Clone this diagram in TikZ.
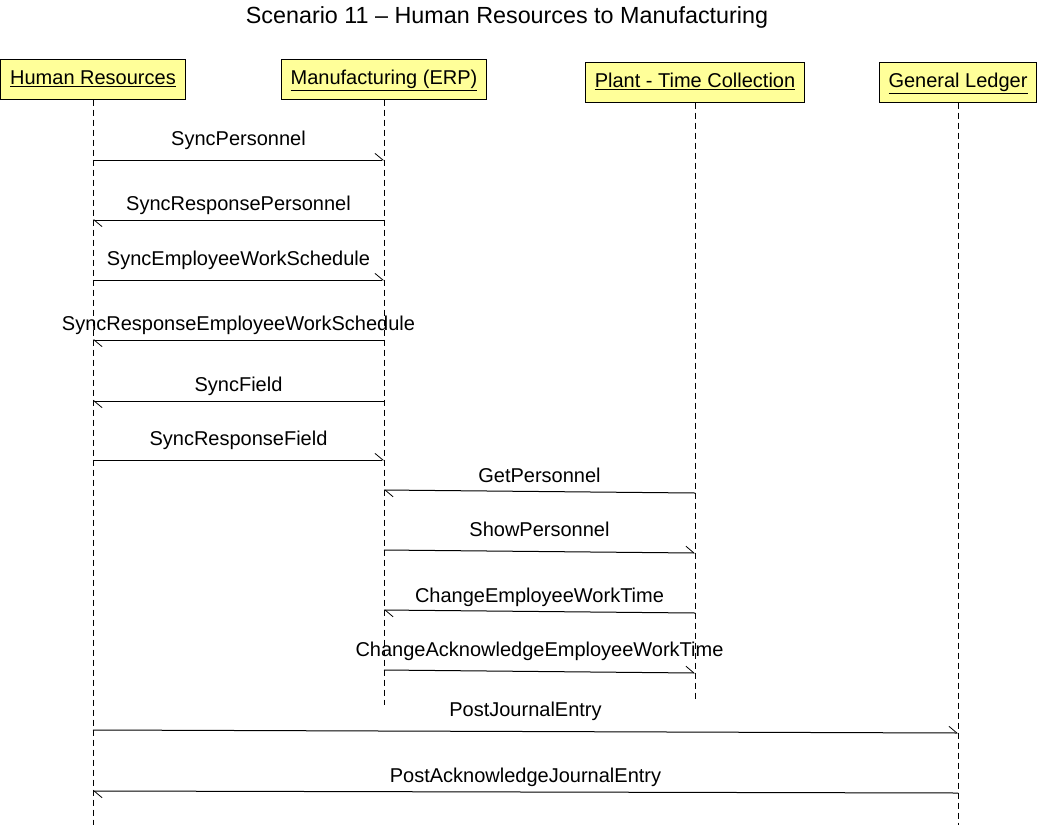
\documentclass[tikz,border=0pt]{standalone}
\usepackage{fontspec}
\setmainfont{Liberation Sans}
\usepackage{tikz}
\usetikzlibrary{arrows.meta}

\begin{document}
\begin{tikzpicture}[x=0.75pt, y=-0.75pt,
    font=\fontsize{15}{18}\selectfont,
    actor/.style={draw, fill={rgb,255:red,255;green,255;blue,153}, minimum height=30pt, inner xsep=7pt,
      text height=11pt, text depth=3.5pt, line width=0.75pt},
    life/.style={dash pattern=on 4.5pt off 3pt, line width=0.75pt},
    msg/.style={line width=0.75pt, -{Straight Barb[left, length=6pt, width=10pt, line width=0.6pt]}},
    rlbl/.style={above, midway, yshift=6.5pt, inner sep=1pt, text depth=3.2pt},
    llbl/.style={above, midway, yshift=2.4pt, inner sep=1pt, text depth=3.2pt}]
    \useasboundingbox (0,0) rectangle (1039,825);
    % Titulo
    \node[font=\fontsize{17.5}{20}\selectfont] (title) at (507,17) {Scenario 11 -- Human Resources to Manufacturing};

    % Participantes
    \node[actor] (hr) at (93,79) {\underline{Human Resources}};
    \node[actor] (mfg) at (384,79) {\underline{Manufacturing (ERP)}};
    \node[actor] (plant) at (695,82) {\underline{Plant - Time Collection}};
    \node[actor] (gl) at (958,82) {\underline{General Ledger}};

    \coordinate (hrend) at (93,825);
    \coordinate (mfgend) at (384,705);
    \coordinate (plantend) at (695,700);
    \coordinate (glend) at (958,825);

    % Lineas de vida
    \draw[life] (hr) -- (hrend);
    \draw[life] (mfg) -- (mfgend);
    \draw[life] (plant) -- (plantend);
    \draw[life] (gl) -- (glend);

    % Mensajes
    \draw[msg] (hr |- 0,160) -- node[rlbl] {SyncPersonnel} (mfg |- 0,160);
    \draw[msg] (mfg |- 0,220) -- node[llbl] {SyncResponsePersonnel} (hr |- 0,220);
    \draw[msg] (hr |- 0,280) -- node[rlbl] {SyncEmployeeWorkSchedule} (mfg |- 0,280);
    \draw[msg] (mfg |- 0,340) -- node[llbl] {SyncResponseEmployeeWorkSchedule} (hr |- 0,340);
    \draw[msg] (mfg |- 0,401) -- node[llbl] {SyncField} (hr |- 0,401);
    \draw[msg] (hr |- 0,460) -- node[rlbl] {SyncResponseField} (mfg |- 0,460);
    \draw[msg] (plant |- 0,493) -- node[llbl] {GetPersonnel} (mfg |- 0,490);
    \draw[msg] (mfg |- 0,550) -- node[rlbl] {ShowPersonnel} (plant |- 0,553);
    \draw[msg] (plant |- 0,613) -- node[llbl] {ChangeEmployeeWorkTime} (mfg |- 0,610);
    \draw[msg] (mfg |- 0,670) -- node[rlbl] {ChangeAcknowledgeEmployeeWorkTime} (plant |- 0,673);
    \draw[msg] (hr |- 0,730) -- node[rlbl] {PostJournalEntry} (gl |- 0,733);
    \draw[msg] (gl |- 0,793) -- node[llbl] {PostAcknowledgeJournalEntry} (hr |- 0,791);
\end{tikzpicture}
\end{document}
